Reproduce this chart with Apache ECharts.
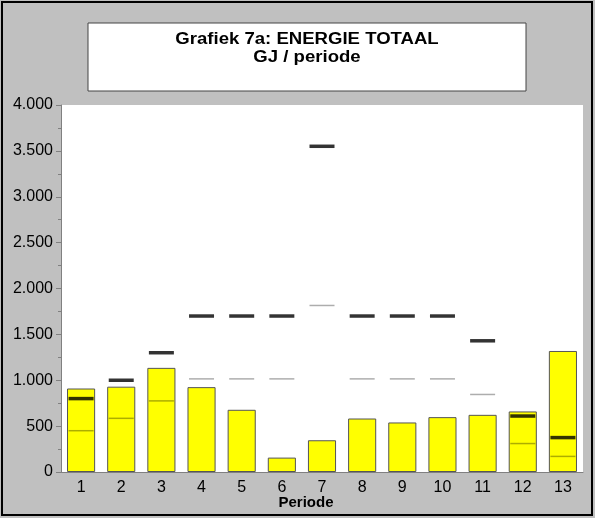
<!DOCTYPE html>
<html><head><meta charset="utf-8">
<script src="https://cdn.jsdelivr.net/npm/echarts@6/dist/echarts.min.js"></script>
<style>html,body{margin:0;padding:0;background:#c0c0c0}#c{width:595px;height:518px}</style>
</head><body><div id="c"></div>
<script>
const categories = ['1','2','3','4','5','6','7','8','9','10','11','12','13'];
const totals = [910, 930, 1135, 925, 678, 157, 346, 583, 540, 598, 623, 660, 1319];
const normThick = [800, 1000, 1300, 1700, 1700, 1700, 3550, 1700, 1700, 1700, 1430, 610, 375];
const normThin = [450, 585, 775, 1015, 1015, 1015, 1815, 1015, 1015, 1015, 845, 310, 170];
const yMin = 0, yMax = 4000, yStep = 500;
const titleLines = ['Grafiek 7a: ENERGIE TOTAAL', 'GJ / periode'];
const xAxisTitle = 'Periode';

const fmt = v => String(v).replace(/\B(?=(\d{3})+(?!\d))/g, '.');
const FONT = 'Liberation Sans, Arial, sans-serif';
const chart = echarts.init(document.getElementById('c'), null, {renderer: 'canvas'});
chart.setOption({
  backgroundColor: '#c0c0c0',
  animation: false,
  grid: {left: 61, right: 12, top: 105, bottom: 46, show: true, backgroundColor: '#ffffff', borderWidth: 0},
  xAxis: {
    type: 'category', data: categories,
    axisLine: {lineStyle: {color: '#808080', width: 1}},
    axisTick: {alignWithLabel: true, length: 5, lineStyle: {color: '#808080'}},
    axisLabel: {color: '#000', fontFamily: FONT, fontSize: 16, margin: 8}
  },
  yAxis: {
    type: 'value', min: yMin, max: yMax, interval: yStep,
    axisLine: {show: true, lineStyle: {color: '#808080', width: 1}},
    axisTick: {show: true, length: 5, lineStyle: {color: '#808080'}},
    minorTick: {show: true, splitNumber: 2, length: 3, lineStyle: {color: '#808080'}},
    splitLine: {show: false},
    axisLabel: {color: '#000', fontFamily: FONT, fontSize: 16, margin: 8, formatter: fmt}
  },
  series: [
    {type: 'bar', data: totals, barWidth: '70%',
     itemStyle: {color: '#ffff00', borderColor: '#555555', borderWidth: 1}},
    {type: 'scatter', data: normThin, symbol: 'rect', symbolSize: [25, 1.5],
     itemStyle: {color: 'rgba(0,0,0,0.4)'}, z: 3},
    {type: 'scatter', data: normThick, symbol: 'rect', symbolSize: [25, 3.5],
     itemStyle: {color: '#000000'}, z: 4}
  ],
  graphic: [
    {type: 'rect', shape: {x: 2, y: 2, width: 590, height: 513}, style: {fill: 'none', stroke: '#000', lineWidth: 2}, z: 100},
    {type: 'rect', shape: {x: 88, y: 23, width: 438, height: 68}, style: {fill: '#fff', stroke: '#444', lineWidth: 1}},
    {type: 'text', x: 307, y: 40, scaleX: 1.16, style: {text: titleLines[0], font: 'bold 16px ' + FONT, fill: '#000', textAlign: 'center', textVerticalAlign: 'middle'}},
    {type: 'text', x: 307, y: 58, scaleX: 1.16, style: {text: titleLines[1], font: 'bold 16px ' + FONT, fill: '#000', textAlign: 'center', textVerticalAlign: 'middle'}},
    {type: 'text', x: 306, y: 503, style: {text: xAxisTitle, font: 'bold 15px ' + FONT, fill: '#000', textAlign: 'center', textVerticalAlign: 'middle'}}
  ]
});
</script></body></html>
